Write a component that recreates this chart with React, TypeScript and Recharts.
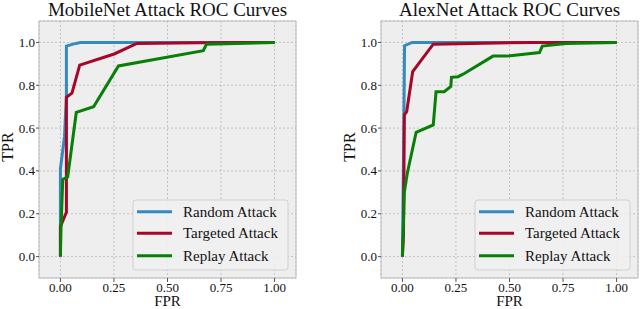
import React from "react";
import {
  LineChart,
  Line,
  XAxis,
  YAxis,
  CartesianGrid,
  ReferenceArea,
} from "recharts";

type Pt = { x: number; y: number };

// MobileNet curves
const mobileRandom: Pt[] = [
  { x: 0, y: 0 },
  { x: 0, y: 0.41 },
  { x: 0.019, y: 0.56 },
  { x: 0.028, y: 0.75 },
  { x: 0.028, y: 0.983 },
  { x: 0.059, y: 0.992 },
  { x: 0.093, y: 1.0 },
  { x: 1, y: 1 },
];
const mobileTargeted: Pt[] = [
  { x: 0, y: 0 },
  { x: 0, y: 0.14 },
  { x: 0.028, y: 0.207 },
  { x: 0.028, y: 0.744 },
  { x: 0.054, y: 0.763 },
  { x: 0.09, y: 0.894 },
  { x: 0.251, y: 0.946 },
  { x: 0.357, y: 0.995 },
  { x: 0.65, y: 0.998 },
  { x: 1, y: 1 },
];
const mobileReplay: Pt[] = [
  { x: 0, y: 0 },
  { x: 0.003, y: 0.14 },
  { x: 0.011, y: 0.36 },
  { x: 0.034, y: 0.372 },
  { x: 0.074, y: 0.673 },
  { x: 0.155, y: 0.7 },
  { x: 0.271, y: 0.89 },
  { x: 0.667, y: 0.961 },
  { x: 0.682, y: 0.991 },
  { x: 1, y: 1 },
];

// AlexNet curves
const alexRandom: Pt[] = [
  { x: 0, y: 0 },
  { x: 0.005, y: 0.45 },
  { x: 0.01, y: 0.985 },
  { x: 0.045, y: 1.0 },
  { x: 1, y: 1 },
];
const alexTargeted: Pt[] = [
  { x: 0, y: 0 },
  { x: 0.005, y: 0.1 },
  { x: 0.009, y: 0.662 },
  { x: 0.02, y: 0.677 },
  { x: 0.048, y: 0.864 },
  { x: 0.144, y: 0.992 },
  { x: 0.61, y: 1.0 },
  { x: 1, y: 1 },
];
const alexReplay: Pt[] = [
  { x: 0, y: 0 },
  { x: 0.009, y: 0.3 },
  { x: 0.023, y: 0.39 },
  { x: 0.064, y: 0.58 },
  { x: 0.144, y: 0.615 },
  { x: 0.157, y: 0.77 },
  { x: 0.195, y: 0.77 },
  { x: 0.226, y: 0.794 },
  { x: 0.229, y: 0.837 },
  { x: 0.26, y: 0.84 },
  { x: 0.291, y: 0.856 },
  { x: 0.423, y: 0.936 },
  { x: 0.485, y: 0.936 },
  { x: 0.64, y: 0.953 },
  { x: 0.653, y: 0.983 },
  { x: 0.764, y: 0.995 },
  { x: 1, y: 1 },
];

const xTicks = [0, 0.25, 0.5, 0.75, 1];
const yTicks = [0, 0.2, 0.4, 0.6, 0.8, 1];
const seriesNames = ["Random Attack", "Targeted Attack", "Replay Attack"];
const seriesColors = ["#348ABD", "#A60628", "#088008"];

const FONT = "'Liberation Serif', 'Times New Roman', serif";

// custom ticks so the serif font sticks
const XTick = (props: any) => (
  <text
    x={props.x}
    y={291.5}
    textAnchor="middle"
    fontSize={13}
    fill="#111"
    style={{ fontFamily: FONT }}
  >
    {Number(props.payload.value).toFixed(2)}
  </text>
);

const YTick = (props: any) => (
  <text
    x={props.x}
    y={props.y + 4.5}
    textAnchor="end"
    fontSize={13}
    fill="#111"
    style={{ fontFamily: FONT }}
  >
    {Number(props.payload.value).toFixed(1)}
  </text>
);

function RocChart({
  series,
  marginLeft,
  marginRight,
}: {
  series: Pt[][];
  marginLeft: number;
  marginRight: number;
}) {
  return (
    <LineChart
      width={320}
      height={309}
      margin={{ top: 21, right: marginRight, bottom: 0, left: marginLeft }}
      style={{ fontFamily: FONT }}
    >
      <CartesianGrid
        fill="#eeeeee"
        stroke="#b8b8b8"
        strokeDasharray="2 2"
        strokeWidth={0.8}
      />
      <XAxis
        dataKey="x"
        type="number"
        domain={[-0.1, 1.1]}
        ticks={xTicks}
        allowDataOverflow
        height={31}
        axisLine={false}
        tickSize={4}
        tickMargin={1}
        tickLine={{ stroke: "#555" }}
        tick={<XTick />}
      />
      <YAxis
        dataKey="y"
        type="number"
        domain={[-0.1, 1.1]}
        ticks={yTicks}
        allowDataOverflow
        width={30}
        axisLine={false}
        tickSize={3}
        tickMargin={1}
        tickLine={{ stroke: "#555" }}
        tick={<YTick />}
      />
      <ReferenceArea
        x1={-0.1}
        x2={1.1}
        y1={-0.1}
        y2={1.1}
        fill="none"
        stroke="#bcbcbc"
        strokeWidth={1}
      />
      {series.map((d, i) => (
        <Line
          key={seriesNames[i]}
          data={d}
          dataKey="y"
          type="linear"
          stroke={seriesColors[i]}
          strokeWidth={3}
          dot={false}
          isAnimationActive={false}
        />
      ))}
    </LineChart>
  );
}

function Legend({ right }: { right: number }) {
  const x0 = right - 163;
  const y0 = 200;
  const rows = [11.7, 33.3, 55.7];
  return (
    <g>
      <rect
        x={x0}
        y={y0}
        width={155}
        height={70}
        rx={3}
        fill="#f0f0f0"
        fillOpacity={0.9}
        stroke="#d0d0d0"
      />
      {seriesNames.map((n, i) => (
        <g key={n}>
          <line
            x1={x0 + 4}
            x2={x0 + 39}
            y1={y0 + rows[i]}
            y2={y0 + rows[i]}
            stroke={seriesColors[i]}
            strokeWidth={3}
          />
          <text
            x={x0 + 50}
            y={y0 + rows[i] + 5}
            fontSize={15}
            fill="#111"
            style={{ fontFamily: FONT }}
          >
            {n}
          </text>
        </g>
      ))}
    </g>
  );
}

export default function App() {
  const txt = { fontFamily: FONT };
  return (
    <div
      style={{
        position: "absolute",
        left: 0,
        top: 0,
        width: 640,
        height: 309,
        background: "#fff",
        overflow: "hidden",
      }}
    >
      <div style={{ position: "absolute", left: 0, top: 0 }}>
        <RocChart
          series={[mobileRandom, mobileTargeted, mobileReplay]}
          marginLeft={9}
          marginRight={24}
        />
      </div>
      <div style={{ position: "absolute", left: 320, top: 0 }}>
        <RocChart
          series={[alexRandom, alexTargeted, alexReplay]}
          marginLeft={31}
          marginRight={2}
        />
      </div>
      <svg
        width={640}
        height={309}
        style={{ position: "absolute", left: 0, top: 0, pointerEvents: "none" }}
      >
        <text x={167.5} y={16} textAnchor="middle" fontSize={19} fill="#111" style={txt}>
          MobileNet Attack ROC Curves
        </text>
        <text x={509.5} y={16} textAnchor="middle" fontSize={19} fill="#111" style={txt}>
          AlexNet Attack ROC Curves
        </text>
        <text x={167.5} y={306} textAnchor="middle" fontSize={15} fill="#111" style={txt}>
          FPR
        </text>
        <text x={509.5} y={306} textAnchor="middle" fontSize={15} fill="#111" style={txt}>
          FPR
        </text>
        <text
          x={0}
          y={0}
          transform="translate(12.5,147) rotate(-90)"
          textAnchor="middle"
          fontSize={16}
          fill="#111"
          style={txt}
        >
          TPR
        </text>
        <text
          x={0}
          y={0}
          transform="translate(354.5,147) rotate(-90)"
          textAnchor="middle"
          fontSize={16}
          fill="#111"
          style={txt}
        >
          TPR
        </text>
        <Legend right={296} />
        <Legend right={638} />
      </svg>
    </div>
  );
}
